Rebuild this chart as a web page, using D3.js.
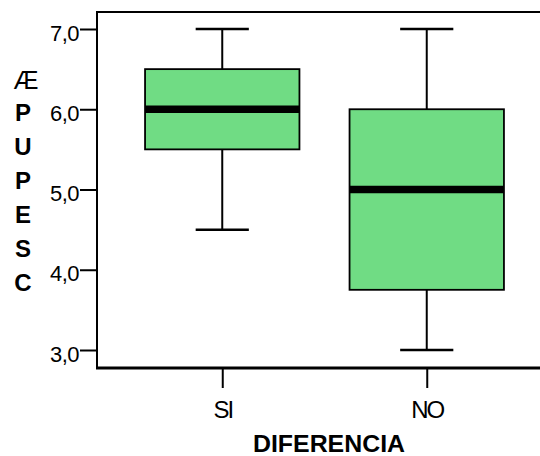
<!DOCTYPE html>
<html><head><meta charset="utf-8">
<script src="https://cdn.jsdelivr.net/npm/d3@7"></script>
<style>body{margin:0;background:#fff}svg{display:block}text{font-family:"Liberation Sans",Arial,sans-serif}</style>
</head><body><svg id="c" width="540" height="456"></svg>
<script>
const categories = ["SI", "NO"];
const mins = [4.5, 3.0];
const q1s = [5.5, 3.75];
const medians = [6.0, 5.0];
const q3s = [6.5, 6.0];
const maxs = [7.0, 7.0];
const yTicks = [3, 4, 5, 6, 7];
const yLabelLetters = ["P", "U", "P", "E", "S", "C"];
const xTitle = "DIFERENCIA";

(function () {
const svg = d3.select("#c");
const mL = 97, mR = 552, mT = 12, mB = 368;
const y = d3.scaleLinear().domain([3, 7]).range([350, 29]);
const x = d3.scalePoint().domain(categories).range([mL, mR]).padding(0.6125);
const step = x.step();
const boxW = step * 0.755, capW = step * 0.26;
const fill = "#70dc84";

svg.append("line").attr("x1", mL).attr("x2", 540).attr("y1", mT).attr("y2", mT).attr("stroke", "#000").attr("stroke-width", 2);
svg.append("line").attr("x1", mL).attr("x2", mL).attr("y1", mT - 1).attr("y2", mB).attr("stroke", "#000").attr("stroke-width", 2);

const data = categories.map((c, i) => ({c, min: mins[i], q1: q1s[i], med: medians[i], q3: q3s[i], max: maxs[i]}));
const b = svg.append("g").selectAll("g.box").data(data).join("g").attr("class", "box");
b.append("line").attr("x1", d => x(d.c)).attr("x2", d => x(d.c)).attr("y1", d => y(d.max)).attr("y2", d => y(d.q3)).attr("stroke", "#000").attr("stroke-width", 2);
b.append("line").attr("x1", d => x(d.c)).attr("x2", d => x(d.c)).attr("y1", d => y(d.q1)).attr("y2", d => y(d.min)).attr("stroke", "#000").attr("stroke-width", 2);
b.append("line").attr("x1", d => x(d.c) - capW / 2).attr("x2", d => x(d.c) + capW / 2).attr("y1", d => y(d.max)).attr("y2", d => y(d.max)).attr("stroke", "#000").attr("stroke-width", 2.5);
b.append("line").attr("x1", d => x(d.c) - capW / 2).attr("x2", d => x(d.c) + capW / 2).attr("y1", d => y(d.min)).attr("y2", d => y(d.min)).attr("stroke", "#000").attr("stroke-width", 2.5);
b.append("rect").attr("x", d => x(d.c) - boxW / 2).attr("width", boxW)
  .attr("y", d => y(d.q3)).attr("height", d => y(d.q1) - y(d.q3))
  .attr("fill", fill).attr("stroke", "#000").attr("stroke-width", 1.8);
b.append("line").attr("x1", d => x(d.c) - boxW / 2).attr("x2", d => x(d.c) + boxW / 2).attr("y1", d => y(d.med)).attr("y2", d => y(d.med)).attr("stroke", "#000").attr("stroke-width", 7.5);

const ya = svg.append("g").attr("transform", `translate(${mL},0)`)
  .call(d3.axisLeft(y).tickValues(yTicks).tickSize(17).tickPadding(1).tickFormat(d => d.toFixed(1).replace(".", ",")));
ya.select(".domain").remove();
ya.selectAll(".tick line").attr("stroke", "#000").attr("stroke-width", 2);
ya.selectAll(".tick text").attr("font-size", 22).attr("fill", "#000").attr("dy", null).attr("y", 11)
  .attr("letter-spacing", -0.5).attr("font-family", '"Liberation Sans",Arial,sans-serif');

const xa = svg.append("g").attr("transform", `translate(0,${mB})`)
  .call(d3.axisBottom(x).tickSize(20).tickPadding(0));
xa.select(".domain").remove();
xa.selectAll(".tick line").attr("stroke", "#000").attr("stroke-width", 2);
xa.selectAll(".tick text").attr("font-size", 24).attr("fill", "#000").attr("dy", null).attr("y", 50)
  .attr("font-family", '"Liberation Sans",Arial,sans-serif').attr("letter-spacing", -2);

svg.append("line").attr("x1", mL - 1).attr("x2", 540).attr("y1", mB).attr("y2", mB).attr("stroke", "#000").attr("stroke-width", 3);

svg.append("text").attr("x", 329).attr("y", 452).attr("text-anchor", "middle")
  .attr("font-size", 24).attr("font-weight", "bold").attr("textLength", 152).attr("lengthAdjust", "spacingAndGlyphs").text(xTitle);

svg.append("text").attr("x", 26).attr("y", 89).attr("text-anchor", "middle")
  .attr("font-family", '"Liberation Serif","Times New Roman",serif').attr("font-size", 25).text("Æ");
svg.selectAll("text.yl").data(yLabelLetters).join("text").attr("class", "yl")
  .attr("x", 23).attr("y", (d, i) => 121 + i * 34).attr("text-anchor", "middle")
  .attr("font-size", 24).attr("font-weight", "bold").text(d => d);
})();
</script></body></html>
